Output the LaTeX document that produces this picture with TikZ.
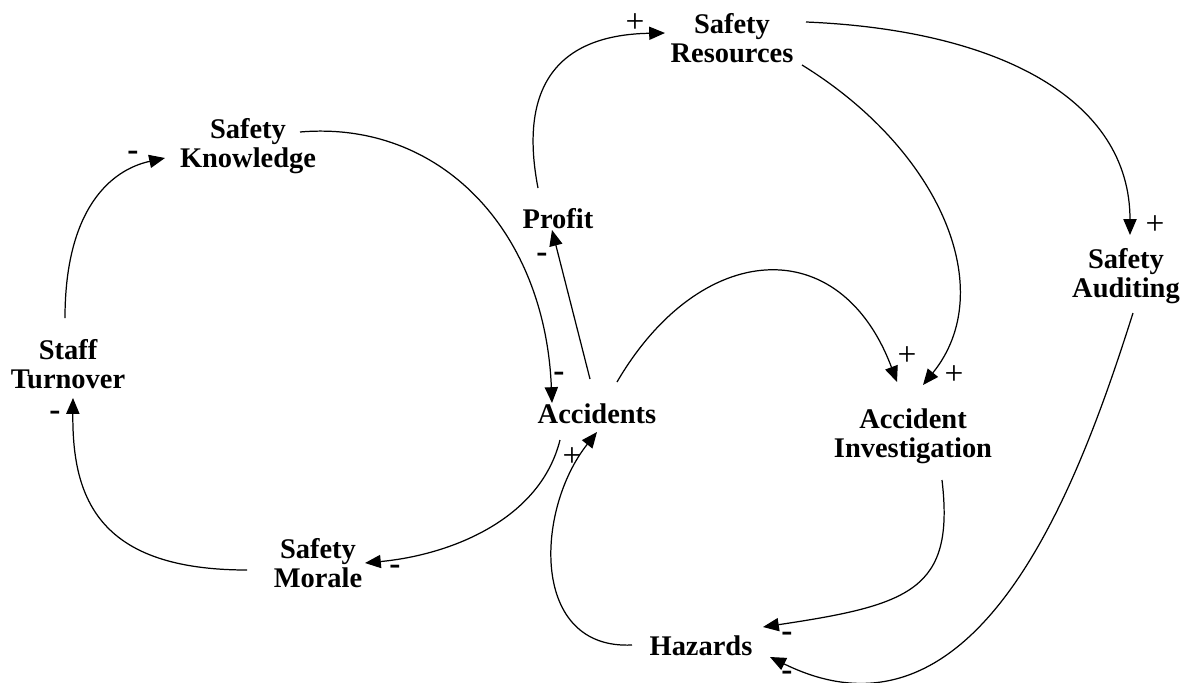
\documentclass[tikz,border=0pt]{standalone}
\usepackage{fontspec}
\setmainfont{Liberation Serif}
\usetikzlibrary{arrows.meta,calc}
\newcommand{\twol}[2]{\begin{tabular}[b]{@{}c@{}}#1\\#2\end{tabular}}
\begin{document}
\begin{tikzpicture}[x=0.02cm,y=-0.02cm,
  var/.style={font=\fontsize{16.2}{16.4}\selectfont\bfseries, inner sep=0pt, anchor=base},
  plus/.style={font=\fontsize{19}{19}\selectfont, inner sep=0pt},
  minus/.style={font=\fontsize{19}{19}\selectfont\bfseries, inner sep=0pt},
  link/.style={line width=0.7pt, -{Triangle[length=9pt,width=7.5pt]}}]
\useasboundingbox (0,0) rectangle (1191,683);

% variables
\node[var] (sk) at (248,167) {\twol{Safety}{Knowledge}};
\node[var] (st) at (68,388) {\twol{Staff}{Turnover}};
\node[var] (pr) at (558,228) {Profit};
\node[var] (sr) at (732,62) {\twol{Safety}{Resources}};
\node[var] (sa) at (1126,297) {\twol{Safety}{Auditing}};
\node[var] (ac) at (597,423) {Accidents};
\node[var] (ai) at (913,457) {\twol{Accident}{Investigation}};
\node[var] (sm) at (318,587) {\twol{Safety}{Morale}};
\node[var] (hz) at (701,655) {Hazards};

% links
\draw[link] ($(sk.base)+(52,-35)$) .. controls (440,120) and (545,230) .. ($(ac.base)+(-45,-20)$);
\draw[link] ($(ac.base)+(-7,-44)$) -- ($(pr.base)+(-6,2)$);
\draw[link] ($(pr.base)+(-20,-40)$) .. controls (520,95) and (550,35) .. ($(sr.base)+(-67,-29)$);
\draw[link] ($(sr.base)+(74,-40)$) .. controls (1000,30) and (1130,100) .. ($(sa.base)+(4,-62)$);
\draw[link] ($(sr.base)+(70,3)$) .. controls (940,150) and (1000,290) .. ($(ai.base)+(10,-72)$);
\draw[link] ($(ac.base)+(20,-41)$) .. controls (700,240) and (840,230) .. ($(ai.base)+(-16,-75)$);
\draw[link] ($(ai.base)+(29,23)$) .. controls (955,590) and (910,605) .. ($(hz.base)+(62,-28)$);
\draw[link] ($(sa.base)+(7,16)$) .. controls (1080,480) and (980,760) .. ($(hz.base)+(69,2)$);
\draw[link] ($(hz.base)+(-69,-10)$) .. controls (530,650) and (535,510) .. ($(ac.base)+(0,9)$);
\draw[link] ($(ac.base)+(-37,17)$) .. controls (540,520) and (450,555) .. ($(sm.base)+(47,-24)$);
\draw[link] ($(sm.base)+(-71,-17)$) .. controls (100,570) and (72,500) .. ($(st.base)+(5,10)$);
\draw[link] ($(st.base)+(-3,-70)$) .. controls (65,210) and (110,170) .. ($(sk.base)+(-83,-9)$);

% polarity signs
\node[minus] (s1) at (133,156) {-};
\node[minus] (s2) at (559,377) {-};
\node[minus] (s3) at (542,258) {-};
\node[plus] (s4) at (635,23) {+};
\node[plus] (s5) at (1155,225) {+};
\node[plus] (s6) at (907,356) {+};
\node[plus] (s7) at (954,375) {+};
\node[minus] (s8) at (787,637) {-};
\node[minus] (s9) at (787,676) {-};
\node[plus] (s10) at (572,457) {+};
\node[minus] (s11) at (395,570) {-};
\node[minus] (s12) at (55,416) {-};
\end{tikzpicture}
\end{document}
